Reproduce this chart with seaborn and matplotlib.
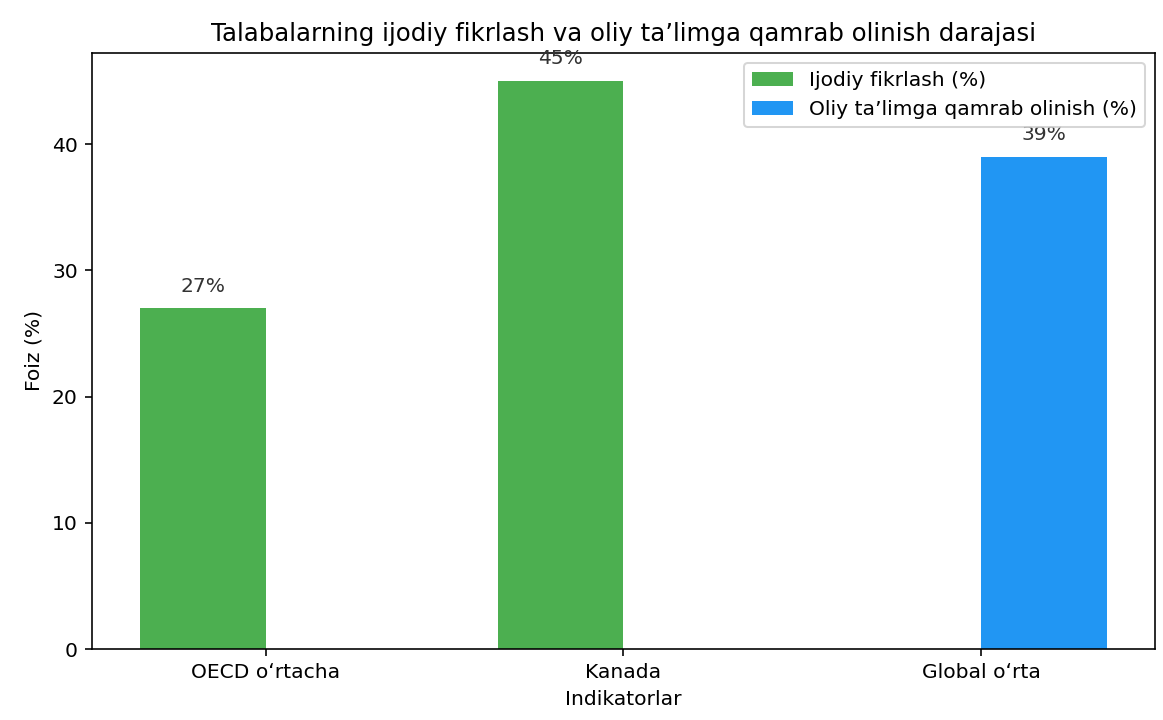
import pandas as pd
import matplotlib
matplotlib.use("Agg")
import matplotlib.pyplot as plt
import seaborn as sns

# data
categories = ["OECD oʻrtacha", "Kanada", "Global oʻrta"]
ijodiy = [27, 45, 0]
oliy = [0, 0, 39]
series_names = ["Ijodiy fikrlash (%)", "Oliy ta’limga qamrab olinish (%)"]
palette = ["#4CAF50", "#2196F3"]

df = pd.DataFrame({
    "Indikator": categories * 2,
    "Qiymat": ijodiy + oliy,
    "Seriya": [series_names[0]] * len(categories) + [series_names[1]] * len(categories),
})

dpi = 146
fig = plt.figure(figsize=(1163 / dpi, 720 / dpi), dpi=dpi)
ax = fig.add_axes([0.0791, 0.0986, 0.9140, 0.8282])

sns.barplot(data=df, x="Indikator", y="Qiymat", hue="Seriya",
            palette=palette, width=0.7, saturation=1, ax=ax)

# percent labels on the non-empty bars
for container in ax.containers:
    for bar in container:
        h = bar.get_height()
        if h > 0:
            ax.text(bar.get_x() + bar.get_width() / 2, h + 1, f"{h:.0f}%",
                    ha="center", va="bottom", fontsize=10, color="#333333")

ax.set_xlim(-0.485, 2.485)
ax.set_ylim(0, 47.25)
ax.set_title("Talabalarning ijodiy fikrlash va oliy ta’limga qamrab olinish darajasi", fontsize=12)
ax.set_xlabel("Indikatorlar")
ax.set_ylabel("Foiz (%)")

handles, labels = ax.get_legend_handles_labels()
ax.legend(handles, labels, loc="upper right")

fig.savefig("out.png", dpi=dpi)
